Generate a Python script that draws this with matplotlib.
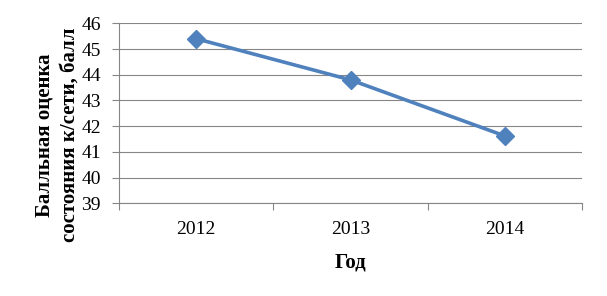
import matplotlib.pyplot as plt
import numpy as np

years = ['2012', '2013', '2014']
scores = [45.4, 43.8, 41.62]
y_ticks = [39, 40, 41, 42, 43, 44, 45, 46]

plt.rcParams['font.family'] = ['Liberation Serif', 'DejaVu Serif']

fig = plt.figure(figsize=(6.07, 2.96), dpi=100)
ax = fig.add_axes([119 / 607, 92.7 / 296, 463 / 607, 180 / 296])

x = np.arange(len(years))
ax.plot(x, scores, color='#4F81BD', linewidth=2.6, marker='D', markersize=9,
        zorder=3)

ax.set_xlim(-0.5, len(years) - 0.5)
ax.set_ylim(39, 46)
ax.set_yticks(y_ticks)
ax.set_yticklabels([str(v) for v in y_ticks], fontsize=14)

# category labels centred, ticks on category boundaries
ax.set_xticks(x)
ax.set_xticklabels(years, fontsize=14)
ax.tick_params(axis='x', length=0, pad=13)
ax.set_xticks(np.arange(len(years) + 1) - 0.5, minor=True)
ax.tick_params(axis='x', which='minor', length=5, color='#868686', width=0.8)
ax.tick_params(axis='y', length=5, color='#868686', width=0.8, pad=8)

ax.grid(axis='y', color='#868686', linewidth=0.8)
ax.set_axisbelow(True)
for side in ['top', 'right']:
    ax.spines[side].set_visible(False)
for side in ['left', 'bottom']:
    ax.spines[side].set_color('#868686')
    ax.spines[side].set_linewidth(0.8)

ax.set_xlabel('Год', fontsize=15, fontweight='bold', labelpad=10)
ax.set_ylabel('Балльная оценка\nсостояния к/сети, балл', fontsize=15,
              fontweight='bold', linespacing=1.3)
ax.yaxis.set_label_coords(-0.086, 0.38)

fig.savefig('out.png', dpi=100)
